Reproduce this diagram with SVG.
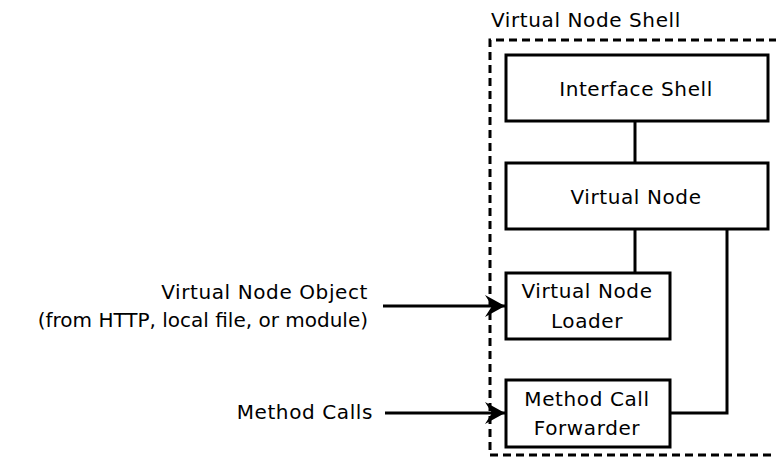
<svg xmlns="http://www.w3.org/2000/svg" width="776" height="465" viewBox="0 0 776 465">
<style>
text{font-family:"DejaVu Sans","Liberation Sans",sans-serif;font-size:20px;fill:#000;letter-spacing:0.6px}
.box{fill:#fff;stroke:#000;stroke-width:3}
.line{fill:none;stroke:#000;stroke-width:3}
.mid{text-anchor:middle}
.end{text-anchor:end}
.tight{letter-spacing:0}
</style>
<defs>
<marker id="ah" markerUnits="userSpaceOnUse" markerWidth="22" markerHeight="24" viewBox="-21 -12 22 24" refX="0" refY="0" orient="auto">
<path d="M0,0 L-20,-11 L-13,0 L-20,11 Z" fill="#000"/>
</marker>
</defs>
<g id="shell">
<path d="M790,40 H490 V455 H790" fill="none" stroke="#000" stroke-width="3" stroke-dasharray="8,5"/>
<text x="491" y="27">Virtual Node Shell</text>
</g>
<g id="connectors">
<line class="line" x1="635" y1="121" x2="635" y2="163"/>
<line class="line" x1="635" y1="229" x2="635" y2="273"/>
<path class="line" d="M727,229 V413 H670"/>
<line class="line" x1="383" y1="306" x2="505" y2="306" marker-end="url(#ah)"/>
<line class="line" x1="385" y1="413" x2="505" y2="413" marker-end="url(#ah)"/>
</g>
<g id="interface-shell">
<rect class="box" x="506" y="55" width="262" height="66"/>
<text class="mid" x="636" y="96">Interface Shell</text>
</g>
<g id="virtual-node">
<rect class="box" x="506" y="163" width="262" height="66"/>
<text class="mid" x="636" y="204">Virtual Node</text>
</g>
<g id="virtual-node-loader">
<rect class="box" x="506" y="273" width="164" height="66"/>
<text class="mid" x="587" y="298">Virtual Node</text>
<text class="mid" x="587" y="328">Loader</text>
</g>
<g id="method-call-forwarder">
<rect class="box" x="506" y="380" width="164" height="67"/>
<text class="mid" x="587" y="406">Method Call</text>
<text class="mid" x="587" y="435">Forwarder</text>
</g>
<g id="virtual-node-object">
<text class="end" x="368" y="299">Virtual Node Object</text>
<text class="end tight" x="368" y="327">(from HTTP, local file, or module)</text>
</g>
<g id="method-calls">
<text class="end" x="373" y="419">Method Calls</text>
</g>
</svg>
